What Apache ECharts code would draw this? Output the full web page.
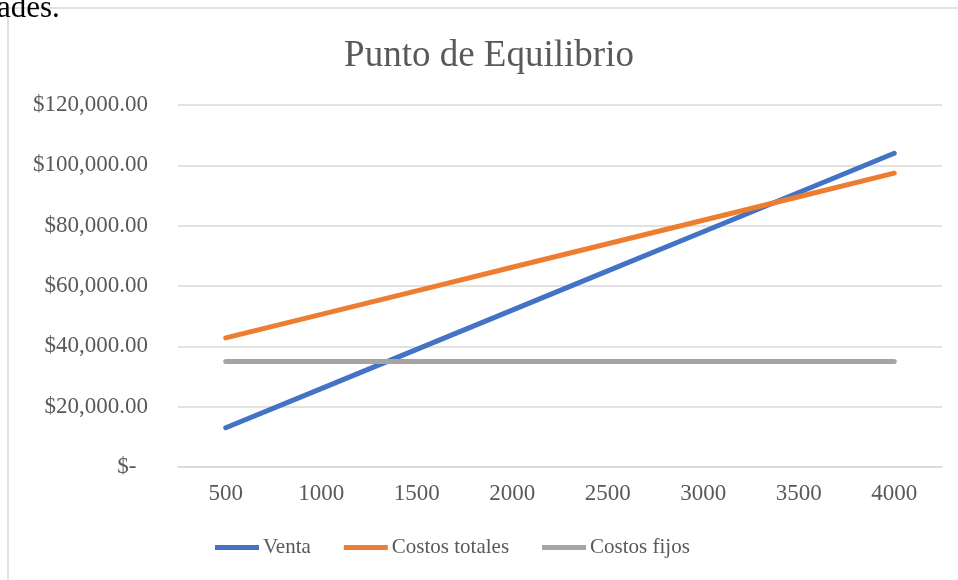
<!DOCTYPE html>
<html>
<head>
<meta charset="utf-8">
<style>
  html, body { margin: 0; padding: 0; background: #fff; }
  #main { width: 958px; height: 580px; }
</style>
<script src="https://cdn.jsdelivr.net/npm/echarts@6/dist/echarts.min.js"></script>
</head>
<body>
<div id="main"></div>
<script>
var unidades = ['500', '1000', '1500', '2000', '2500', '3000', '3500', '4000'];
var venta = [13000, 26000, 39000, 52000, 65000, 78000, 91000, 104000];
var costosTotales = [42800, 50600, 58400, 66200, 74000, 81800, 89600, 97400];
var costosFijos = [35000, 35000, 35000, 35000, 35000, 35000, 35000, 35000];

var FONT = "'Liberation Serif', 'Times New Roman', serif";
var GRIS = '#595959';

function money(v) {
  if (v === 0) return '$-  ';
  return '$' + v.toLocaleString('en-US', { minimumFractionDigits: 2, maximumFractionDigits: 2 });
}

function linea(name, data, color) {
  return {
    name: name,
    type: 'line',
    data: data,
    symbol: 'none',
    lineStyle: { width: 5, color: color, cap: 'round' },
    itemStyle: { color: color }
  };
}

var myChart = echarts.init(document.getElementById('main'));
var option = {
  animation: false,
  backgroundColor: '#fff',
  graphic: [
    { type: 'line', shape: { x1: 8, y1: 8, x2: 958, y2: 8 }, style: { stroke: '#d9d9d9', lineWidth: 1.5 } },
    { type: 'line', shape: { x1: 8, y1: 8, x2: 8, y2: 580 }, style: { stroke: '#d9d9d9', lineWidth: 1.5 } },
    { type: 'text', left: -3, top: -7, style: { text: 'ades.', font: '31px ' + FONT, fill: '#000' } }
  ],
  title: {
    text: 'Punto de Equilibrio',
    left: 484,
    textAlign: 'center',
    top: 33,
    textStyle: { fontFamily: FONT, fontSize: 37, fontWeight: 'normal', color: GRIS }
  },
  legend: {
    data: ['Venta', 'Costos totales', 'Costos fijos'],
    left: 210,
    top: 532,
    icon: 'rect',
    itemWidth: 44,
    itemHeight: 5,
    itemGap: 33,
    textStyle: { fontFamily: FONT, fontSize: 21, color: GRIS, padding: [0, 0, 0, -1] }
  },
  grid: { left: 178, right: 16, top: 105, bottom: 113 },
  xAxis: {
    type: 'category',
    data: unidades,
    boundaryGap: true,
    axisLine: { show: true, lineStyle: { color: '#d9d9d9', width: 1.5 } },
    axisTick: { show: false },
    axisLabel: { fontFamily: FONT, fontSize: 23, color: GRIS, margin: 15 }
  },
  yAxis: {
    type: 'value',
    min: 0,
    max: 120000,
    interval: 20000,
    axisLine: { show: false },
    axisTick: { show: false },
    splitLine: { lineStyle: { color: '#d9d9d9', width: 1.5 } },
    axisLabel: { fontFamily: FONT, fontSize: 23, color: GRIS, margin: 30, formatter: money }
  },
  series: [
    linea('Venta', venta, '#4472C4'),
    linea('Costos totales', costosTotales, '#ED7D31'),
    linea('Costos fijos', costosFijos, '#A5A5A5')
  ]
};
myChart.setOption(option);
</script>
</body>
</html>
